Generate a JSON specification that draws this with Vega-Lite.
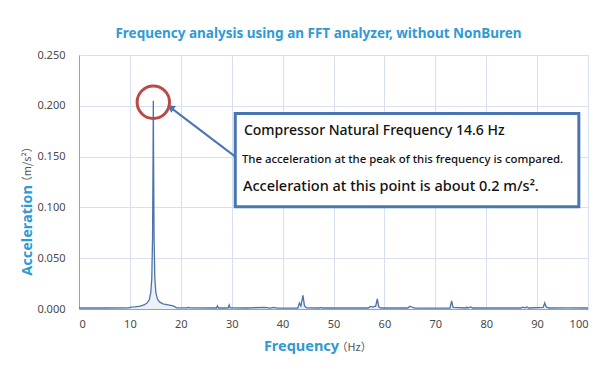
{
  "$schema": "https://vega.github.io/schema/vega-lite/v6.json",
  "width": 509,
  "height": 254,
  "autosize": {"type": "none"},
  "padding": {"left": 79, "top": 55, "right": 25, "bottom": 62},
  "background": "white",
  "title": {
    "text": "Frequency analysis using an FFT analyzer, without NonBuren",
    "font": "Noto Sans",
    "fontSize": 13.5,
    "fontWeight": "bold",
    "color": "#2f9ad3",
    "anchor": "middle",
    "dx": -15,
    "offset": 9
  },
  "config": {
    "view": {"stroke": null},
    "font": "Noto Sans",
    "axis": {
      "grid": true,
      "gridColor": "#d6e0ee",
      "gridWidth": 1,
      "domainColor": "#8fa3bf",
      "ticks": false,
      "labelFont": "Noto Sans",
      "labelFontSize": 11,
      "labelColor": "#4a4a4a",
      "titleFont": "Noto Sans",
      "titleFontWeight": "bold",
      "titleFontSize": 14.5,
      "titleColor": "#2f9ad3"
    }
  },
  "datasets": {
    "spec": [
      {"f": 0, "a": 0.001},
      {"f": 5, "a": 0.001},
      {"f": 9.8, "a": 0.0012},
      {"f": 10.2, "a": 0.0018},
      {"f": 11.0, "a": 0.002},
      {"f": 12.0, "a": 0.0028},
      {"f": 12.8, "a": 0.004},
      {"f": 13.4, "a": 0.006},
      {"f": 13.8, "a": 0.009},
      {"f": 14.1, "a": 0.016},
      {"f": 14.3, "a": 0.03},
      {"f": 14.45, "a": 0.07},
      {"f": 14.55, "a": 0.15},
      {"f": 14.6, "a": 0.205},
      {"f": 14.65, "a": 0.15},
      {"f": 14.75, "a": 0.07},
      {"f": 14.9, "a": 0.03},
      {"f": 15.1, "a": 0.016},
      {"f": 15.4, "a": 0.01},
      {"f": 15.8, "a": 0.007},
      {"f": 16.5, "a": 0.005},
      {"f": 17.5, "a": 0.004},
      {"f": 18.5, "a": 0.003},
      {"f": 19.2, "a": 0.0012},
      {"f": 21.3, "a": 0.0012},
      {"f": 21.5, "a": 0.0018},
      {"f": 21.7, "a": 0.0011},
      {"f": 27.0, "a": 0.001},
      {"f": 27.2, "a": 0.0032},
      {"f": 27.4, "a": 0.001},
      {"f": 29.3, "a": 0.001},
      {"f": 29.5, "a": 0.004},
      {"f": 29.7, "a": 0.0012},
      {"f": 33.0, "a": 0.001},
      {"f": 36.5, "a": 0.0016},
      {"f": 37.5, "a": 0.0008},
      {"f": 38.3, "a": 0.0016},
      {"f": 39.0, "a": 0.0008},
      {"f": 43.0, "a": 0.001},
      {"f": 43.3, "a": 0.006},
      {"f": 43.6, "a": 0.003},
      {"f": 44.0, "a": 0.0135},
      {"f": 44.3, "a": 0.003},
      {"f": 44.7, "a": 0.0012},
      {"f": 47.3, "a": 0.001},
      {"f": 47.5, "a": 0.0016},
      {"f": 47.8, "a": 0.001},
      {"f": 56.8, "a": 0.001},
      {"f": 57.3, "a": 0.0025},
      {"f": 57.8, "a": 0.0018},
      {"f": 58.3, "a": 0.003},
      {"f": 58.6, "a": 0.01},
      {"f": 58.9, "a": 0.002},
      {"f": 59.3, "a": 0.001},
      {"f": 64.6, "a": 0.001},
      {"f": 65.0, "a": 0.0028},
      {"f": 65.6, "a": 0.0015},
      {"f": 66.0, "a": 0.0008},
      {"f": 72.9, "a": 0.001},
      {"f": 73.2, "a": 0.008},
      {"f": 73.5, "a": 0.0015},
      {"f": 76.0, "a": 0.001},
      {"f": 76.2, "a": 0.0018},
      {"f": 76.4, "a": 0.001},
      {"f": 77.0, "a": 0.002},
      {"f": 77.3, "a": 0.001},
      {"f": 86.8, "a": 0.001},
      {"f": 87.2, "a": 0.0018},
      {"f": 87.6, "a": 0.0012},
      {"f": 88.0, "a": 0.002},
      {"f": 88.3, "a": 0.001},
      {"f": 91.2, "a": 0.0015},
      {"f": 91.5, "a": 0.006},
      {"f": 91.8, "a": 0.002},
      {"f": 92.3, "a": 0.001},
      {"f": 96.0, "a": 0.0012},
      {"f": 100, "a": 0.001}
    ],
    "box": [{"x1": 30.7, "x2": 98.2, "y1": 0.1925, "y2": 0.1006}],
    "arrow": [{"f": 30.7, "a": 0.150}, {"f": 18.2, "a": 0.1975}],
    "tip": [{"f": 18.0, "a": 0.1985}],
    "circle": [{"f": 14.6, "a": 0.2035}],
    "notes": [
      {"f": 32.4, "a": 0.1754, "t": "Compressor Natural Frequency 14.6 Hz", "s": 14},
      {"f": 32.0, "a": 0.1466, "t": "The acceleration at the peak of this frequency is compared.", "s": 11.4},
      {"f": 32.2, "a": 0.1197, "t": "Acceleration at this point is about 0.2 m/s².", "s": 14.5}
    ],
    "xunit": [{"f": 50.6, "a": -0.0385, "t": "（Hz）"}],
    "yunit": [{"f": -10.0, "a": 0.1425, "t": "（m/s²）"}]
  },
  "encoding": {
    "x": {
      "field": "f",
      "type": "quantitative",
      "scale": {"domain": [0, 100], "nice": false},
      "axis": {
        "values": [0, 10, 20, 30, 40, 50, 60, 70, 80, 90, 100],
        "title": "Frequency",
        "titleX": 222,
        "titleY": 37,
        "titleBaseline": "middle",
        "labelPadding": 9
      }
    },
    "y": {
      "field": "a",
      "type": "quantitative",
      "scale": {"domain": [0, 0.25], "nice": false},
      "axis": {
        "values": [0, 0.05, 0.1, 0.15, 0.2, 0.25],
        "format": ".3f",
        "title": "Acceleration",
        "titleX": -52,
        "titleY": 175,
        "titleBaseline": "middle",
        "labelPadding": 14
      }
    }
  },
  "layer": [
    {
      "data": {"name": "spec"},
      "mark": {"type": "area", "color": "#d5e0ef", "opacity": 0.45}
    },
    {
      "data": {"name": "spec"},
      "mark": {"type": "line", "color": "#4d74aa", "strokeWidth": 1.3}
    },
    {
      "data": {"name": "box"},
      "mark": {"type": "rect", "fill": "white", "stroke": "#4a76b0", "strokeWidth": 3},
      "encoding": {
        "x": {"field": "x1", "type": "quantitative"},
        "x2": {"field": "x2"},
        "y": {"field": "y1", "type": "quantitative"},
        "y2": {"field": "y2"}
      }
    },
    {
      "data": {"name": "arrow"},
      "mark": {"type": "line", "color": "#4a76b0", "strokeWidth": 2}
    },
    {
      "data": {"name": "tip"},
      "mark": {"type": "point", "shape": "triangle-up", "filled": true, "color": "#4a76b0", "size": 70, "angle": 305, "opacity": 1}
    },
    {
      "data": {"name": "circle"},
      "mark": {"type": "point", "shape": "circle", "filled": false, "stroke": "#b94a45", "strokeWidth": 3, "size": 1050, "opacity": 1}
    },
    {
      "data": {"name": "notes"},
      "mark": {"type": "text", "align": "left", "baseline": "middle", "color": "#111111", "font": "Noto Sans", "fontWeight": 500},
      "encoding": {
        "text": {"field": "t"},
        "size": {"field": "s", "type": "quantitative", "scale": null}
      }
    },
    {
      "data": {"name": "xunit"},
      "mark": {"type": "text", "align": "left", "baseline": "middle", "color": "#555555", "fontSize": 11, "font": "Noto Sans CJK SC"},
      "encoding": {"text": {"field": "t"}}
    },
    {
      "data": {"name": "yunit"},
      "mark": {"type": "text", "align": "center", "baseline": "middle", "color": "#555555", "fontSize": 11, "angle": 270, "font": "Noto Sans CJK SC"},
      "encoding": {"text": {"field": "t"}}
    }
  ]
}
